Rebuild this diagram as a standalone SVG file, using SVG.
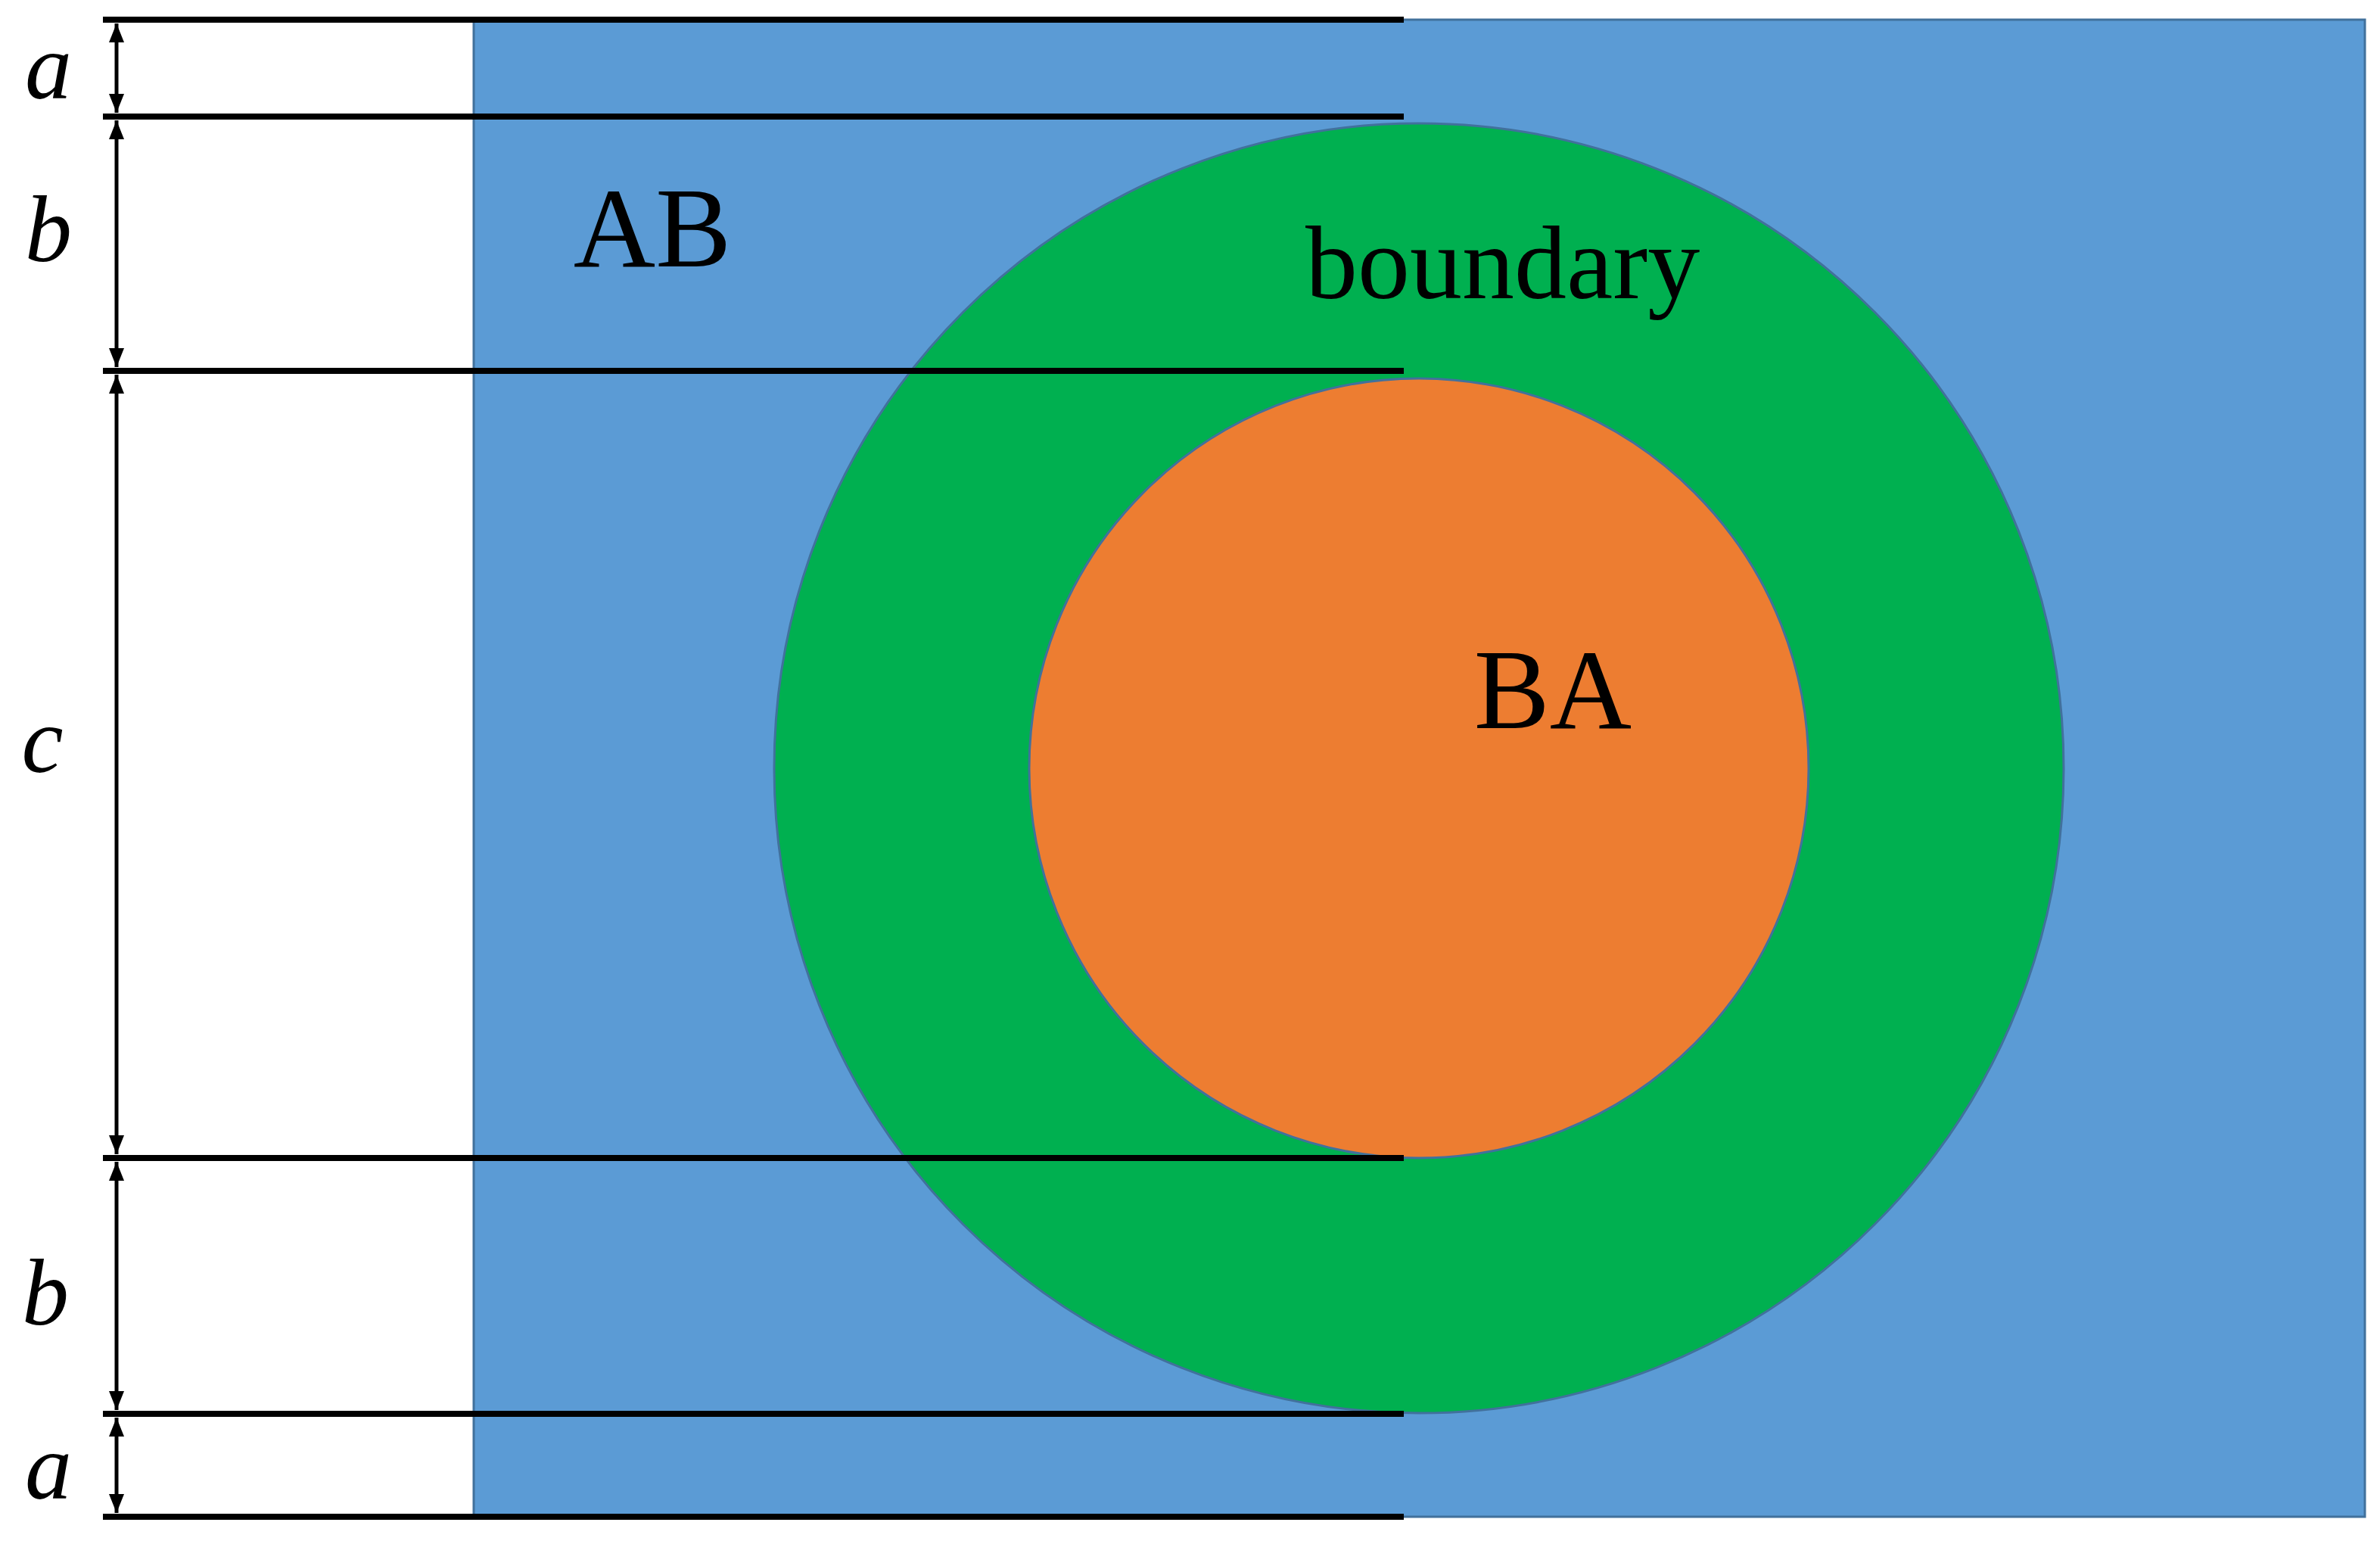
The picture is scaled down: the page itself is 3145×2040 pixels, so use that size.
<svg xmlns="http://www.w3.org/2000/svg" width="3145" height="2040" viewBox="0 0 3145 2040">
<style>
.ln{stroke:#000;stroke-width:8}
.dim{stroke:#000;stroke-width:5;marker-start:url(#ah);marker-end:url(#ah)}
.lbl{font-family:"Liberation Serif",serif;font-style:italic;font-size:124px;fill:#000}
.t{font-family:"Liberation Serif",serif;fill:#000}
</style>
<defs>
<marker id="ah" viewBox="0 0 10 10" refX="10" refY="5" markerWidth="5" markerHeight="5" orient="auto-start-reverse" markerUnits="strokeWidth"><path d="M0,1 L10,5 L0,9 Z" fill="#000"/></marker>
</defs>
<rect width="3145" height="2040" fill="#fff"/>
<g id="regionAB"><rect x="626" y="26" width="2499" height="1978" fill="#5B9BD5" stroke="#41719C" stroke-width="3"/>
<text class="t" x="862" y="352" font-size="150" text-anchor="middle">AB</text></g>
<g id="boundary"><circle cx="1875" cy="1015" r="852" fill="#00B050" stroke="#41719C" stroke-width="3"/>
<text class="t" x="1725" y="394" font-size="138">boundary</text></g>
<g id="regionBA"><circle cx="1875" cy="1015" r="515" fill="#ED7D31" stroke="#41719C" stroke-width="3"/>
<text class="t" x="2052" y="962" font-size="150" text-anchor="middle">BA</text></g>
<g id="connectors">
<line class="ln" x1="136" y1="26" x2="1855" y2="26"/>
<line class="ln" x1="136" y1="154" x2="1855" y2="154"/>
<line class="ln" x1="136" y1="490" x2="1855" y2="490"/>
<line class="ln" x1="136" y1="1530" x2="1855" y2="1530"/>
<line class="ln" x1="136" y1="1868" x2="1855" y2="1868"/>
<line class="ln" x1="136" y1="2004" x2="1855" y2="2004"/>
<line class="dim" x1="154" y1="31" x2="154" y2="149"/>
<line class="dim" x1="154" y1="159" x2="154" y2="485"/>
<line class="dim" x1="154" y1="495" x2="154" y2="1525"/>
<line class="dim" x1="154" y1="1535" x2="154" y2="1863"/>
<line class="dim" x1="154" y1="1873" x2="154" y2="1999"/>
</g>
<g id="labels">
<text class="lbl" x="64" y="130" text-anchor="middle">a</text>
<text class="lbl" x="64" y="345" text-anchor="middle">b</text>
<text class="lbl" x="56" y="1020" text-anchor="middle">c</text>
<text class="lbl" x="60" y="1750" text-anchor="middle">b</text>
<text class="lbl" x="64" y="1980" text-anchor="middle">a</text>
</g>
</svg>
